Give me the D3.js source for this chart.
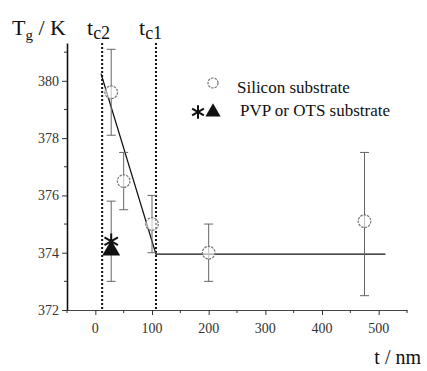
<!DOCTYPE html>
<html>
<head>
<meta charset="utf-8">
<script src="https://cdn.jsdelivr.net/npm/d3@7"></script>
</head>
<body style="margin:0">
<svg id="chart" width="427" height="371"></svg>
<script>
// Silicon substrate: thickness (nm), Tg (K), error low/high
const siliconT   = [28, 50, 100, 200, 475];
const siliconTg  = [379.6, 376.5, 375.0, 374.0, 375.1];
const siliconLo  = [378.1, 375.5, 374.0, 373.0, 372.5];
const siliconHi  = [381.1, 377.5, 376.0, 375.0, 377.5];

// PVP / OTS substrates
const pvpT      = [28];
const pvpStarTg = [374.4];
const otsTriTg  = [374.08];
const pvpLo     = [373.0];
const pvpHi     = [375.8];

// Fitted piecewise-linear trend
const fitT  = [10, 107, 512];
const fitTg = [380.25, 373.95, 373.95];

// Critical thicknesses
const tc2 = 12;
const tc1 = 107;

const xTicks = [0, 100, 200, 300, 400, 500];
const xMinor = [-50, 50, 150, 250, 350, 450, 550];
const yTicks = [372, 374, 376, 378, 380];
const yMinor = [373, 375, 377, 379, 381];

const svg = d3.select("#chart");
const x = d3.scaleLinear().domain([-50, 550]).range([67, 407]);
const y = d3.scaleLinear().domain([372, 381.32]).range([310, 43]);

// Text helper: every label is set in a Times-like serif
function label(px, py, size) {
  return svg.append("text").attr("x", px).attr("y", py).attr("font-size", size)
    .attr("fill", "#111").style("font-family", '"Liberation Serif"');
}

// Axes (lines only; labels are drawn as separate text)
const gx = svg.append("g").attr("transform", `translate(0,${y(372)})`)
  .call(d3.axisBottom(x).tickValues(xTicks).tickSize(5).tickSizeOuter(0).tickFormat(""));
gx.select(".domain").attr("stroke", "#444").attr("stroke-width", 1.2);
gx.selectAll(".tick line").attr("stroke", "#333");
gx.selectAll(".tick text").remove();
gx.append("g").selectAll("line").data(xMinor).join("line")
  .attr("x1", d => x(d)).attr("x2", d => x(d)).attr("y1", 0).attr("y2", 3)
  .attr("stroke", "#333");

const gy = svg.append("g").attr("transform", `translate(${x(-50)},0)`)
  .call(d3.axisLeft(y).tickValues(yTicks).tickSize(5).tickSizeOuter(0).tickFormat(""));
gy.select(".domain").attr("stroke", "#111").attr("stroke-width", 1.6);
gy.selectAll(".tick line").attr("stroke", "#333");
gy.selectAll(".tick text").remove();
gy.append("g").selectAll("line").data(yMinor).join("line")
  .attr("x1", -3).attr("x2", 0).attr("y1", d => y(d)).attr("y2", d => y(d))
  .attr("stroke", "#333");

xTicks.forEach(v => label(x(v), y(372) + 23, 14).attr("text-anchor", "middle").attr("fill", "#333").text(v));
yTicks.forEach(v => label(x(-50) - 8, y(v) + 5, 14).attr("text-anchor", "end").attr("fill", "#333").text(v));

// Critical thickness markers
svg.append("g").selectAll("line").data([tc2, tc1]).join("line")
  .attr("x1", d => x(d)).attr("x2", d => x(d))
  .attr("y1", y(381.32)).attr("y2", y(372))
  .attr("stroke", "#111").attr("stroke-width", 2).attr("stroke-dasharray", "2,2");

// Fit line
const line = d3.line().x((d, i) => x(fitT[i])).y(d => y(d));
svg.append("path").datum(fitTg).attr("d", line)
  .attr("fill", "none").attr("stroke", "#111").attr("stroke-width", 1.3);

// Error bars
function errorBars(ts, lo, hi) {
  const g = svg.append("g").attr("stroke", "#666").attr("stroke-width", 1);
  ts.forEach((t, i) => {
    g.append("line").attr("x1", x(t)).attr("x2", x(t)).attr("y1", y(lo[i])).attr("y2", y(hi[i]));
    g.append("line").attr("x1", x(t) - 4.5).attr("x2", x(t) + 4.5).attr("y1", y(lo[i])).attr("y2", y(lo[i]));
    g.append("line").attr("x1", x(t) - 4.5).attr("x2", x(t) + 4.5).attr("y1", y(hi[i])).attr("y2", y(hi[i]));
  });
}
errorBars(siliconT, siliconLo, siliconHi);
errorBars(pvpT, pvpLo, pvpHi);

// Silicon points
svg.append("g").selectAll("circle").data(siliconTg).join("circle")
  .attr("cx", (d, i) => x(siliconT[i])).attr("cy", d => y(d)).attr("r", 6.3)
  .attr("fill", "#fff").attr("fill-opacity", 0.6)
  .attr("stroke", "#777").attr("stroke-width", 1.2).attr("stroke-dasharray", "2.5,1");

// PVP / OTS points
const star = d3.symbol().type(d3.symbolAsterisk).size(170);
const tri = d3.symbol().type(d3.symbolTriangle).size(140);
svg.append("g").selectAll("path").data(otsTriTg).join("path")
  .attr("d", tri).attr("transform", (d, i) => `translate(${x(pvpT[i])},${y(d)})`)
  .attr("fill", "#111");
svg.append("g").selectAll("path").data(pvpStarTg).join("path")
  .attr("d", star).attr("transform", (d, i) => `translate(${x(pvpT[i])},${y(d)})`)
  .attr("fill", "none").attr("stroke", "#111").attr("stroke-width", 2);

// Axis titles
const yt = label(12, 35, 22);
yt.append("tspan").text("T");
yt.append("tspan").text("g").attr("font-size", 15).attr("dy", 5);
yt.append("tspan").text(" / K").attr("dy", -5);

function tLabel(px, sub) {
  const t = label(px, 35, 22);
  t.append("tspan").text("t");
  t.append("tspan").text(sub).attr("font-size", 18).attr("dy", 4);
}
tLabel(87, "c2");
tLabel(139, "c1");

label(421, 364, 20).attr("text-anchor", "end").text("t / nm");

// Legend
svg.append("circle").attr("cx", 213).attr("cy", 83).attr("r", 5)
  .attr("fill", "#fff").attr("stroke", "#777").attr("stroke-width", 1.2).attr("stroke-dasharray", "2.5,1");
label(237, 93, 17).text("Silicon substrate");
svg.append("path").attr("d", d3.symbol().type(d3.symbolAsterisk).size(130)())
  .attr("transform", "translate(198,112)").attr("fill", "none").attr("stroke", "#111").attr("stroke-width", 2);
svg.append("path").attr("d", d3.symbol().type(d3.symbolTriangle).size(100)())
  .attr("transform", "translate(213,112)").attr("fill", "#111");
label(240, 116, 17).text("PVP or OTS substrate");
</script>
</body>
</html>
